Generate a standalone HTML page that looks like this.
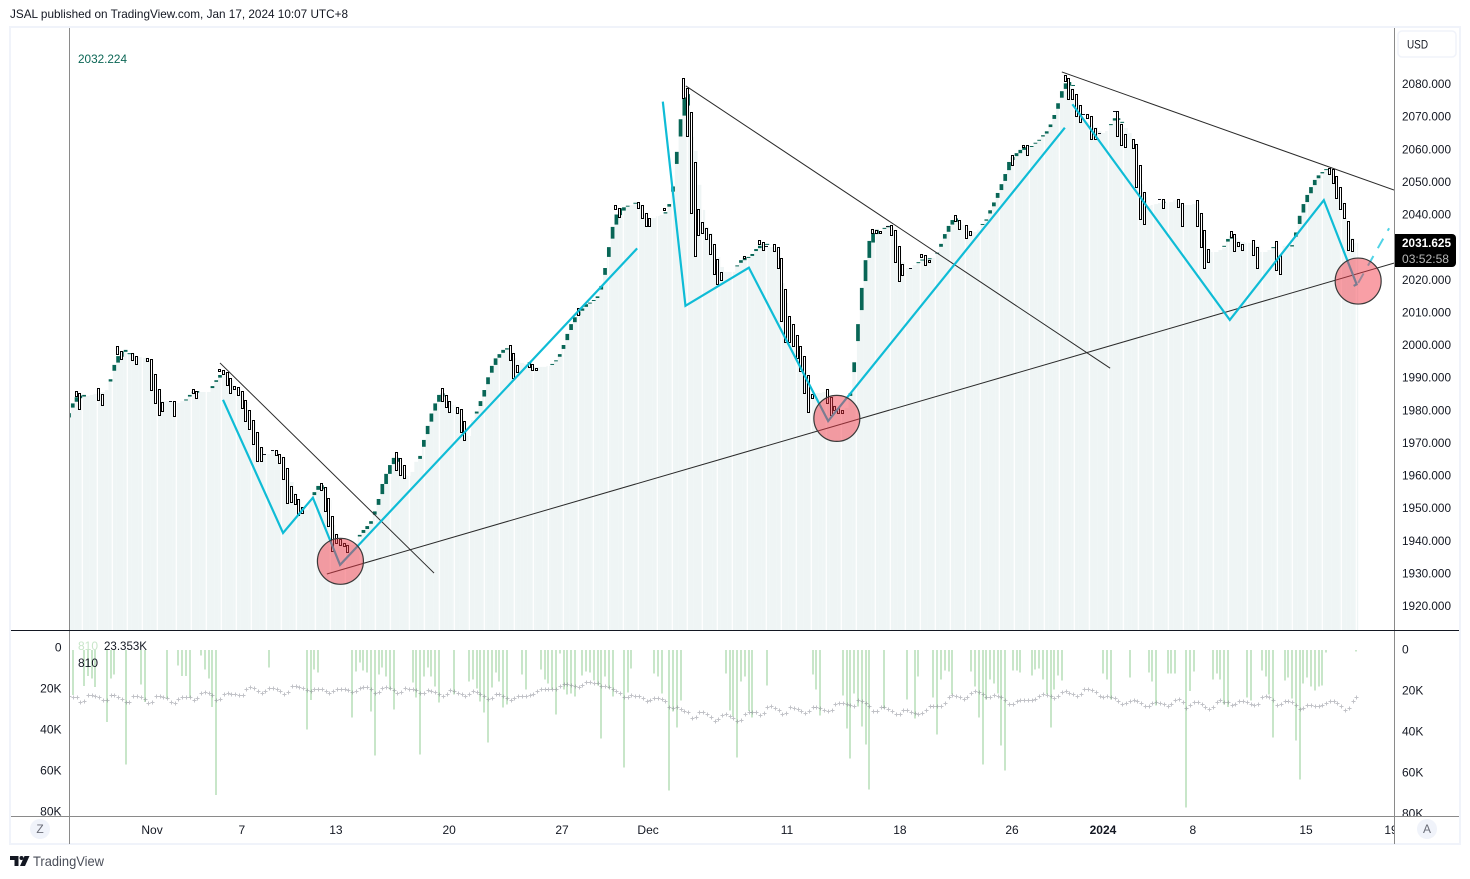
<!DOCTYPE html>
<html lang="en">
<head>
<meta charset="utf-8">
<title>JSAL TradingView chart</title>
<style>
html,body{margin:0;padding:0;background:#fff;width:1470px;height:879px;overflow:hidden}
svg{display:block}
text{font-family:"Liberation Sans",sans-serif;font-size:12px;fill:#131722}
</style>
</head>
<body>
<svg id="chart" xmlns="http://www.w3.org/2000/svg" width="1470" height="879" viewBox="0 0 1470 879">
  <defs>
    <clipPath id="priceClip"><rect x="70" y="28" width="1324" height="602"/></clipPath>
    <clipPath id="volClip"><rect x="70" y="631" width="1324" height="185"/></clipPath>
    <clipPath id="timeClip"><rect x="70" y="817" width="1324" height="27"/></clipPath>
    <clipPath id="leftVolClip"><rect x="11" y="631" width="58" height="185"/></clipPath>
    <clipPath id="rightVolClip"><rect x="1395" y="631" width="64" height="185"/></clipPath>
  </defs>
  <text x="10" y="18" textLength="338" lengthAdjust="spacingAndGlyphs">JSAL published on TradingView.com, Jan 17, 2024 10:07 UTC+8</text>
  <rect x="10" y="27" width="1450" height="817" fill="#fff" stroke="#f0f3fa" stroke-width="2"/>
  <g id="areaLayer" clip-path="url(#priceClip)"></g>
  <g id="gapLayer" clip-path="url(#priceClip)"></g>
  <g id="candleLayer" clip-path="url(#priceClip)"></g>
  <g id="drawLayer" clip-path="url(#priceClip)"></g>
  <g id="volLayer" clip-path="url(#volClip)"></g>
  <g id="maLayer" clip-path="url(#volClip)"></g>
  <line x1="69.5" y1="28" x2="69.5" y2="844" stroke="#8a8a8a"/>
  <line x1="1394.5" y1="28" x2="1394.5" y2="844" stroke="#8a8a8a"/>
  <line x1="11" y1="630.5" x2="1459" y2="630.5" stroke="#131722"/>
  <line x1="11" y1="816.5" x2="1459" y2="816.5" stroke="#8a8a8a"/>
  <text x="78" y="63" textLength="49" lengthAdjust="spacingAndGlyphs" style="fill:#0b6655">2032.224</text>
  <text x="78" y="650" style="fill:#c8e6c9">810</text>
  <text x="104" y="650" textLength="43" lengthAdjust="spacingAndGlyphs">23.353K</text>
  <text x="78" y="667">810</text>
  <rect x="1398" y="31" width="58" height="26" rx="4" fill="#fff" stroke="#f0f3fa" stroke-width="1.5"/>
  <text x="1407" y="48.5" textLength="21" lengthAdjust="spacingAndGlyphs">USD</text>
  <g id="priceAxis"></g>
  <g id="volAxisLeft" clip-path="url(#leftVolClip)"></g>
  <g id="volAxisRight" clip-path="url(#rightVolClip)"></g>
  <g id="timeAxis" clip-path="url(#timeClip)"></g>
  <path d="M1395 234H1452a4 4 0 0 1 4 4V263a4 4 0 0 1 -4 4H1395Z" fill="#000"/>
  <text x="1402" y="247" textLength="49" lengthAdjust="spacingAndGlyphs" style="fill:#fff;font-weight:bold">2031.625</text>
  <text x="1402" y="263" textLength="47" lengthAdjust="spacingAndGlyphs" style="fill:#b8b8b8">03:52:58</text>
  <circle cx="40" cy="829" r="10" fill="#f0f3fa"/>
  <text x="40" y="833" text-anchor="middle" style="fill:#6a6d78">Z</text>
  <circle cx="1427" cy="829" r="10" fill="#f0f3fa"/>
  <text x="1427" y="833" text-anchor="middle" style="fill:#6a6d78">A</text>
  <g>
    <polygon points="10,856 18.5,856 18.5,866 14.5,866 14.5,860 10,860" fill="#131722"/>
    <circle cx="21.5" cy="858" r="2" fill="#131722"/>
    <polygon points="24.5,856 29.5,856 25,866 20,866" fill="#131722"/>
    <text x="33" y="866" textLength="71" lengthAdjust="spacingAndGlyphs" style="font-size:14px;fill:#4a4e59">TradingView</text>
  </g>
</svg>
<script>
// ---- Price axis ticks
var priceTicks = [2080,2070,2060,2050,2040,2030,2020,2010,2000,1990,1980,1970,1960,1950,1940,1930,1920];
var volumeTicks = [0,20,40,60,80];
var timeLabels = ["Nov","7","13","20","27","Dec","11","18","26","2024","8","15","19"];
var timeLabelBars = [22,45.8,70.7,100.7,130.6,153.4,190.2,220.1,249.8,273.9,297.7,327.7,350.2];

// ---- Rising candles (filled)
var upBars = [0,1,2,3,4,11,12,13,14,15,
16,31,32,33,34,38,39,40,65,66,
67,77,78,79,80,81,82,83,84,85,
86,87,93,94,95,96,97,98,99,108,
109,110,111,112,113,114,115,116,122,128,
129,130,131,132,133,134,135,136,137,138,
139,140,141,142,143,144,145,146,147,148,
150,158,159,160,161,162,163,164,177,178,
179,180,181,182,183,184,185,207,208,209,
210,211,212,213,214,216,217,225,226,228,
230,231,232,233,234,235,242,243,244,245,
246,247,248,249,250,251,252,253,255,256,
257,258,259,260,261,262,263,264,265,266,
276,277,278,279,290,306,307,308,319,324,
325,326,327,328,329,330,331,332,333];
var upTop = [1979.1,1982.1,1984,1984.5,1984.7,1989.5,1993.9,1996.6,1998,1998.5,
1997.5,1983.3,1984.7,1985.7,1985.9,1987.4,1989.2,1990.8,1954.9,1956.8,
1957,1941.8,1943.3,1944.5,1946,1949,1952.8,1957.4,1960.5,1963.2,
1965.4,1965.4,1966,1970.9,1975.2,1979,1982.1,1984.7,1985.2,1979.6,
1982.8,1986.2,1990.1,1993.6,1995.9,1997.2,1998.5,1999,1994.7,1994.2,
1995.3,1997.2,2000,2003.4,2006.4,2008.5,2010.3,2011.2,2012.5,2013,
2013.8,2014.9,2018.1,2023.6,2030,2036.2,2040,2041.9,2042.2,2042.7,
2043.6,2040.7,2043.2,2048.6,2059.2,2069.2,2075.9,2076.9,2024.4,2026,
2026.8,2027,2027.9,2029.4,2030.4,2030.9,2031,1985.2,1994.7,2006.4,
2017.5,2026,2031.9,2034.3,2035.3,2035.9,2036.5,2025.4,2026.2,2026.6,
2028.3,2031,2034,2036.5,2038.3,2038.8,2037.1,2038.5,2041.3,2043.7,
2046.6,2049.3,2052.4,2056.1,2057.6,2058.8,2059.8,2060.6,2061,2062,
2062.9,2064.3,2065.5,2067.6,2070.5,2074.1,2077.8,2080.2,2080.6,2079.7,
2067.7,2069.5,2069.5,2068.4,2043.9,2030.4,2032.5,2033.5,2030,2030.6,
2034.5,2039.6,2043.2,2046,2048.4,2050.6,2052,2053,2053.9];
var upBottom = [1977.8,1980.8,1982.6,1983.7,1984.2,1988.8,1992.1,1994.6,1996.4,1997.9,
1997.3,1983.1,1984.2,1985.2,1985.4,1986.8,1988.7,1990,1954,1955.6,
1955.8,1941.3,1942.4,1943.6,1945.2,1948,1951,1954.3,1957.4,1960.5,
1963.5,1964.2,1965.1,1968.8,1972.7,1976.5,1979.9,1982.6,1984.2,1979,
1981.3,1984.2,1988,1991.5,1993.9,1996.1,1997.6,1998.6,1994.5,1994,
1995.1,1996.4,1998.8,2001.5,2004.6,2007,2009.1,2010.5,2011.7,2012.7,
2013.6,2014.4,2017,2021.5,2027,2032.6,2036.9,2039.8,2041.2,2042.4,
2043.4,2040.3,2042.4,2047,2055.5,2063.9,2070.3,2073.4,2024.2,2025.2,
2026,2026.8,2027.3,2028.8,2029.7,2030.7,2030.8,1984.4,1991.7,2001.2,
2010.7,2019.6,2026.7,2031.4,2034,2035.7,2036.1,2025.2,2025.9,2026.4,
2028,2030.1,2032.6,2034.7,2036.9,2037.8,2036.9,2038.1,2040.3,2042.5,
2045.1,2047.5,2050.3,2053.6,2056.7,2057.9,2058.8,2059.8,2060.8,2061.8,
2062.6,2063.9,2064.8,2066.8,2069.3,2072.4,2075.8,2078.5,2079.5,2079.5,
2067.5,2068.8,2069,2068.2,2043.6,2030.2,2031.7,2032.6,2029.8,2030.2,
2033.2,2037.1,2040.6,2043.8,2046.5,2049,2051.1,2052.6,2053.7];

// ---- Falling candles (hollow)
var downBars = [2,3,8,9,13,14,17,18,21,22,
23,24,25,27,28,33,34,40,41,42,
43,44,45,46,47,48,49,50,51,52,
54,55,56,57,58,59,60,61,62,67,
68,69,70,71,72,73,74,87,88,89,
99,100,101,103,104,105,117,118,119,122,
123,124,135,145,146,151,152,153,154,158,
163,164,165,166,167,168,169,170,171,172,
173,179,183,184,185,187,188,189,190,191,
192,193,194,195,196,197,201,202,203,204,
205,213,214,215,217,218,219,220,221,223,
226,227,228,235,236,238,239,250,253,254,
264,265,266,267,268,269,270,271,272,273,
277,278,279,280,282,283,284,285,289,290,
294,295,299,300,301,302,308,309,310,311,
314,315,320,321,334,335,336,337,338,339,
340];
var downTop = [1986,1985.2,1986.7,1984.9,1999.6,1998.3,1997.4,1996.5,1996.1,1995.6,
1991,1986.4,1982.4,1982.8,1982.7,1986.6,1986,1992.5,1992.2,1991.7,
1989.8,1987.4,1987,1985.8,1983,1980,1976.9,1973.2,1968.6,1966.6,
1967.8,1967.7,1966.7,1965.6,1962.2,1956.7,1954.2,1952.7,1950.2,1957.8,
1956.6,1953,1947.5,1942,1940.5,1939.3,1938.8,1967.2,1965.4,1963.2,
1986.7,1984.6,1982.7,1981.1,1980.3,1976.6,1999.9,1997.7,1993.8,1994.6,
1994.1,1993.1,2011.2,2042.8,2042.1,2043.7,2042.8,2040.6,2038.8,2041.9,
2081.7,2078.7,2071.3,2056,2041.6,2037.6,2035.8,2033.9,2030.9,2026.3,
2022.3,2027.2,2032.1,2031.5,2030.4,2030.9,2029.9,2026.6,2017.1,2008.8,
2006.3,2003,1999.7,1996.5,1990.7,1985.1,1986.4,1984.2,1981.4,1980.7,
1980,2035.5,2035.3,2034.8,2036.6,2036.8,2035.1,2030.2,2024.7,2023.6,
2027.8,2027.5,2026,2039.8,2038.2,2036.7,2034.8,2058.2,2061.4,2061.2,
2082.7,2081.7,2078.4,2076.8,2073.5,2070.8,2070.7,2070.1,2066.4,2065,
2071.7,2071.6,2067.6,2064.6,2063,2061.5,2055.1,2046.8,2044.8,2044.7,
2044.7,2043.4,2044.4,2040.4,2035.2,2029.3,2034.9,2033.9,2031.5,2030.9,
2032.1,2029.9,2031.8,2027.5,2054.4,2053.8,2051.7,2048.4,2043.5,2037.9,
2032.4];
var downBottom = [1984.5,1980.3,1983,1981.5,1997.1,1995.9,1995.3,1994.1,1995.3,1986.1,
1982.1,1978.4,1979.7,1982.6,1978.1,1985.3,1984,1991.8,1991,1987.6,
1985.2,1986.4,1984.6,1980.6,1976.7,1974.2,1969.6,1964.3,1964.3,1966.4,
1967.6,1966.2,1964,1958.8,1951.5,1951.8,1951.1,1947.8,1948.4,1955.8,
1949.3,1944.5,1936.9,1939.2,1938.6,1938.5,1936.6,1961.7,1960.2,1959.2,
1982.6,1980.9,1979.3,1979.4,1973.2,1970.8,1995.3,1990,1991.6,1993.5,
1992.4,1992.5,2009.1,2041.6,2039.4,2041.9,2038.8,2036.7,2036.4,2041.2,
2075.6,2063.9,2040.4,2027.1,2033.7,2034.2,2032.5,2027.8,2021.7,2018.6,
2019.8,2026.5,2030.8,2029.2,2030.2,2028.9,2023.5,2007.2,2000.8,2000.8,
1999.7,1995.9,1992.1,1985.2,1979.4,1984,1982.1,1978.6,1980.3,1979.1,
1979.1,2034.4,2034.5,2034.2,2036.4,2033.6,2025.4,2019.5,2021.4,2023.4,
2026.8,2024.4,2025.3,2038.1,2035.5,2032.7,2033.6,2055.2,2060.7,2058,
2080.8,2075.2,2075.3,2070.1,2068.2,2070.6,2069.4,2063,2063,2064.8,
2071.5,2064,2061.2,2060.6,2060.3,2048.3,2038.5,2037,2044.6,2041.9,
2042.2,2036.4,2036.4,2029.9,2023.5,2025.3,2033.2,2028.7,2030.3,2029,
2027.5,2023.5,2022.9,2021.7,2052.6,2049.6,2045,2041.8,2038.9,2029.1,
2028.7];

// ---- Pale area series, one value per bar
var areaValues = [1979.2,1980.7,1982.5,1983.8,1984.4,1984.4,1984.7,1985,1985.3,1985.6,
1986.2,1988.7,1992,1994.5,1996.3,1997.8,1997.5,1997.5,1996.3,1996.3,
1996,1995.4,1991.4,1986.2,1984.4,1982.8,1982.8,1982.8,1981.6,1982.2,
1982.8,1983.5,1984.4,1985.3,1985.6,1985.6,1985.6,1985.6,1987.1,1988.7,
1990.2,1991.7,1991.4,1989.3,1987.1,1986.5,1985.3,1982.5,1980.1,1976.4,
1973,1968.4,1966.6,1966.6,1967.5,1967.5,1966.3,1965.4,1961.7,1958,
1954.7,1952.5,1950.4,1949.4,1952.5,1954,1955.5,1957.1,1956.5,1952.5,
1944.8,1941.8,1940.8,1939.6,1939.3,1938.7,1939.3,1941.1,1942.4,1943.6,
1945.4,1948.2,1951,1954.3,1957.4,1960.5,1963.5,1964.2,1962.9,1960.2,
1959.9,1961.1,1964.2,1965.4,1968.7,1972.7,1976.4,1979.8,1982.5,1984.1,
1983.8,1982.8,1981.6,1981,1977.9,1973.9,1972.1,1977,1979.2,1981.3,
1984.1,1988.1,1991.4,1993.9,1996,1997.5,1998.5,1998.2,1996,1995.4,
1994.5,1994.2,1993.9,1993.3,1993.3,1993.3,1993.3,1993.6,1993.9,1995.1,
1996.6,1998.8,2001.5,2004.6,2007.1,2008.9,2010.7,2012,2012.9,2013.8,
2014.4,2017.2,2021.8,2027.3,2032.8,2036.8,2039.5,2041.4,2042.3,2042.9,
2043.2,2043.2,2039.9,2038.9,2038.9,2038.9,2039.5,2039.9,2040.2,2042.3,
2046.9,2055.5,2063.8,2070.2,2076,2063.8,2059.5,2049.1,2041.4,2036.2,
2034.3,2030,2027,2023.9,2022.4,2022.4,2022.4,2024.2,2025.4,2026.4,
2026.7,2027.6,2028.8,2030,2030,2030,2030,2029.7,2029.1,2019,
2012.9,2007.7,2003.1,2000,1996,1992.3,1987.7,1985.6,1985.3,1985.3,
1985.6,1986.2,1984.7,1981.6,1980.7,1980.1,1980.7,1984.7,1991.7,2001.2,
2010.7,2019.6,2026.7,2031.3,2034,2034.6,2035.6,2036.2,2035.9,2033.7,
2029.1,2025.4,2023.6,2023.6,2024.5,2025.1,2026.1,2026.4,2026.4,2026.7,
2027.9,2030,2032.5,2034.6,2036.8,2037.7,2037.7,2036.8,2035.9,2034.9,
2034.6,2035.3,2036.8,2038,2040.2,2042.3,2045.1,2047.5,2050.3,2053.6,
2056.7,2057.9,2058.9,2059.8,2060.4,2060.7,2061.6,2062.5,2063.8,2064.7,
2066.8,2069.3,2072.3,2076,2078.5,2079.4,2078.8,2074.2,2069.6,2068.4,
2068.4,2067.4,2066.8,2065.6,2065,2065.6,2067.4,2069,2069.3,2068.4,
2066.5,2065,2062.8,2060.7,2049.3,2045.4,2042.6,2042.9,2043.2,2043.5,
2043.5,2043.5,2043.8,2044.4,2043.8,2042.9,2042.9,2042.9,2043.2,2043.2,
2039.5,2032.2,2029.1,2028.5,2028.5,2029.1,2029.7,2031.9,2033.4,2032.8,
2031.9,2031.6,2031.3,2031.3,2031,2030.4,2028.5,2028.5,2029.1,2029.7,
2028.5,2027.6,2030.4,2030.4,2032.2,2033.1,2037.1,2040.5,2043.5,2046.3,
2048.8,2050.9,2052.4,2053.3,2053.6,2051.8,2047.5,2044.4,2038.9,2035.3,
2032.8,2031.3];

// ---- Volume histogram (thousands), listed only for bars that show one
var volBars = [0,1,4,5,6,7,10,11,12,15,
19,20,26,29,30,31,32,35,36,37,
38,39,53,63,64,65,66,75,76,77,
78,79,80,81,82,83,84,85,86,91,
92,93,94,95,96,97,98,102,106,107,
108,109,110,111,112,113,114,115,116,120,
121,125,126,127,128,129,130,131,132,133,
134,136,137,138,139,140,141,142,143,144,
147,148,149,155,156,157,159,160,161,162,
174,175,176,177,178,179,180,181,185,197,
198,199,205,206,207,208,209,210,211,212,
216,222,224,225,229,230,231,232,233,234,
239,240,241,242,243,244,245,246,247,248,
250,251,252,255,256,257,258,259,260,261,
262,263,274,275,276,281,286,287,288,291,
292,293,296,297,298,303,304,305,306,307,
312,313,316,317,318,319,322,323,324,325,
326,327,328,329,330,331,332,333,341];
var volValues = [13.5,22.3,17.9,13,14.2,18.4,35.4,14.2,12.2,56,
17,25.7,24,7.8,13,13,23.3,2.9,9.8,14.2,
28.1,71,8.9,39,24.7,9.8,11.2,33.2,10.7,6.3,
10.2,11.2,30.2,51.7,12.2,8.8,13.2,19.5,29.3,16.1,
23.4,51.2,13.2,8.8,13.2,18,25.9,22,15.6,14.6,
19,25.4,30.7,45.4,18.5,11.2,15.6,28.3,26.8,12.2,
19.5,9.8,14.6,16.6,19.5,31.7,2,19.5,22,21.5,
22.9,12.7,10.7,11.2,15.1,17.6,43.4,13.2,19,22.9,
57.6,21,9.3,11.7,13.2,21.5,68.8,30.2,38,24.9,
11.7,29.8,32.7,52.7,15.6,13.2,29.9,33.2,17.6,12.2,
19.5,32.2,22.4,38.5,53.2,21.5,27.8,37.6,46.3,68.3,
28.8,24.4,33.7,13.2,23.4,41.5,14.6,10.2,10.7,22,
10.7,18,33.2,56.1,24.4,14.6,16.6,21.5,46.8,59,
10.2,10.2,11.2,12.7,9.8,9.3,14.6,22,38,19.5,
12.7,15.1,11.7,14.6,24.4,13.7,11.2,15.6,27.3,11.7,
11.7,11.7,77,20.3,10.7,14.6,11.7,14.6,26.8,28.1,
23.4,24.9,10.2,13.2,22,42.9,15.1,13.7,23.9,44.4,
63.4,16.6,13.7,18,20,18,17.6,1.5,1];

// ---- Volume moving average (thousands), one value per bar
var volAverage = [22.8,23.4,23.4,25.4,25,22.4,22.4,22.9,23.4,24.6,
24.6,22.4,22.4,23.4,24.2,25.7,25.4,22.9,22.9,23.4,
24.1,25.9,25.5,22.9,22.9,23.4,23.7,25.4,26,24.2,
23.1,23.1,23.4,24.7,23.7,21.3,20.8,21.3,22.3,24.4,
24.1,21.6,21.1,21.5,21.6,22.4,22.1,19.5,18.5,18.9,
20.3,21.1,20.3,18.9,18.9,19.5,20.2,21.6,20.7,17.7,
17.7,18.2,18.7,19.7,20.2,19.2,19.2,19.2,20.2,21.1,
20.2,19.2,19.2,19.2,19.7,20.7,20.2,18.7,18.2,18.2,
19.2,21.1,20.7,18.7,18.2,18.7,19.7,21.1,20.7,18.7,
19.2,19.2,19.7,21.1,21.1,19.7,20.2,20.7,21.6,22.6,
21.6,19.7,20.2,21.1,21.6,22.6,21.6,20.2,20.7,21.6,
22.6,24.1,23.6,21.6,21.6,22.6,23.6,24.6,23.6,22.6,
22.6,22.6,22.1,21.6,20.2,19.2,19.2,19.2,19.2,19.2,
17.7,16.7,16.7,17.2,17.7,18.2,17.2,15.8,15.8,16.3,
16.3,17.7,17.7,18.2,19.2,20.2,21.1,23.1,23.1,22.1,
22.6,22.6,23.6,25,24.6,23.6,23.6,24.1,25,28,
28.5,28,28.9,29.9,30.4,33.3,32.8,30.4,30.4,31.4,
32.8,34.8,33.8,31.9,31.4,32.4,33.3,34.8,34.3,31.4,
30.4,30.4,30.4,31.9,30.9,28,27.5,28.5,29.4,31.4,
30.9,28,28.5,28.9,29.9,30.9,29.9,28,28,28.5,
29.4,29.9,29.4,26.5,26,26,26.5,27,27.5,24.6,
25,26,27.5,29.9,29.9,28,28,28.9,29.9,31.4,
31.4,29.4,29.4,30.4,30.9,31.4,30.9,29.4,27.5,27.5,
27.5,27.5,26,23.1,22.1,22.6,23.1,24.1,23.1,21.1,
20.2,20.7,21.6,23.1,23.1,22.1,22.6,23.1,24.6,26.5,
26.5,25,24.6,24.6,24.6,24.6,24.1,22.6,21.6,22.1,
22.6,23.6,22.6,20.7,20.2,21.1,21.6,22.6,21.6,19.2,
19.2,19.7,20.7,22.6,23.1,22.6,23.1,23.6,25,26.5,
26,25,24.6,25,26,27.5,27.5,26,25.5,26,
26.5,27.5,26.5,24.6,24.1,25.5,28.5,27.3,25.4,25.4,
26.5,28,28.9,28,25.4,24.6,25.7,25.7,27,26.5,
25,25,25.5,26.5,27,26.5,23.1,22.6,23.1,24.6,
27,26.5,25,25,25.5,27,28.9,28.5,27,27,
27.5,27.5,27,26,25,25,26,27.5,29.4,28.5,
25,23.4];

// ---- Drawings anchored in bar / price space
var trendStartBars = [40,163.4,263,68.3];
var trendStartPrices = [1994.5,2079.4,2083.7,1929.8];
var trendEndBars = [96.7,275.8,351,351];
var trendEndPrices = [1930.1,1992.9,2047.5,2025.1];
var zigzagABars = [40.8,56.7,64.6,71.8,150.5];
var zigzagAPrices = [1983.2,1942.4,1953.2,1932.6,2029.6];
var zigzagBBars = [157.3,163.3,180.1,201.1,263.8];
var zigzagBPrices = [2074.6,2012,2023.7,1976.7,2066.6];
var zigzagCBars = [265.8,307.5,332.4,341.1,340.3];
var zigzagCPrices = [2073.8,2007.7,2044.4,2018.6,2018.1];
var projectionBars = [341.5,349.7];
var projectionPrices = [2019,2035.8];
var circleBars = [71.9,203.4,341.5];
var circlePrices = [1933.7,1977.5,2019.6];

var NS = 'http://www.w3.org/2000/svg';
function xScale(i){ return 69 + 3.775 * i; }
function yScale(p){ return 84 + (2080 - p) * 3.2625; }
function volScale(k){ return 649.5 + 2.05 * k; }
function make(parent, tag, attrs){
  var el = document.createElementNS(NS, tag);
  for (var key in attrs){ el.setAttribute(key, attrs[key]); }
  parent.appendChild(el);
  return el;
}
var g = function(id){ return document.getElementById(id); };

// area columns
areaValues.forEach(function(v, i){
  var top = yScale(v);
  var el = make(g('areaLayer'), 'rect', {x: xScale(i) - 1.95, y: top, width: 3.9, height: 630 - top, fill: '#eff5f5'});
  
  
});

// white grid gaps through the area
var gapJumpThresholds = [172,300,400,515,640,750,860,995,1090,1240,1325];
(function(){
  var gx = 82.3;
  while (gx < 1358){
    var el = make(g('gapLayer'), 'line', {x1: gx, x2: gx, y1: 28, y2: 630, stroke: '#fff', 'stroke-width': 1.2});
    
    
    var next = gx + 15;
    var crossed = gapJumpThresholds.some(function(t){ return gx <= t && next > t; });
    gx = crossed ? next + 4 : next;
  }
})();

// volume
volBars.forEach(function(b, n){
  var h = volScale(volValues[n]) - 650;
  var el = make(g('volLayer'), 'rect', {x: Math.round(xScale(b)) - 1, y: 650, width: 2, height: Math.max(h, 1), fill: '#c8e6c9', 'shape-rendering': 'crispEdges'});
  
  
});
volAverage.forEach(function(k, i){
  var cx = Math.round(xScale(i)) + 0.5, cy = Math.round(volScale(k)) + 0.5;
  var d = 'M' + (cx - 2) + ' ' + cy + 'H' + (cx + 2) + 'M' + cx + ' ' + (cy - 2) + 'V' + (cy + 2);
  var el = make(g('maLayer'), 'path', {d: d, stroke: '#787b86', 'stroke-opacity': 0.45, 'stroke-width': 1, fill: 'none', 'shape-rendering': 'crispEdges'});
  
  
});

// candles
upBars.forEach(function(b, n){
  var t = yScale(upTop[n]), bt = yScale(upBottom[n]);
  var el = make(g('candleLayer'), 'rect', {x: xScale(b) - 1.85, y: t, width: 3.7, height: Math.max(bt - t, 1), fill: '#086656'});
  
  
});
downBars.forEach(function(b, n){
  var t = yScale(downTop[n]), bt = yScale(downBottom[n]);
  var left = Math.round(xScale(b)) - 1.5;
  var h = bt - t;
  var el;
  if (h < 1.5){
    el = make(g('candleLayer'), 'rect', {x: left - 0.5, y: Math.round(t), width: 3, height: 1, fill: '#131722'});
  } else {
    el = make(g('candleLayer'), 'rect', {x: left, y: Math.round(t) + 0.5, width: 2, height: Math.round(h), fill: '#fff', stroke: '#000', 'stroke-width': 1, 'shape-rendering': 'crispEdges'});
  }
  
  
});

// drawings
trendStartBars.forEach(function(b, n){
  var el = make(g('drawLayer'), 'line', {x1: xScale(b), y1: yScale(trendStartPrices[n]), x2: xScale(trendEndBars[n]), y2: yScale(trendEndPrices[n]), stroke: '#2a2a2a', 'stroke-width': 1});
  
  
});
function polyPoints(bars, prices){
  return bars.map(function(b, n){ return xScale(b) + ',' + yScale(prices[n]); }).join(' ');
}
[[zigzagABars, zigzagAPrices],[zigzagBBars, zigzagBPrices],[zigzagCBars, zigzagCPrices]].forEach(function(s){
  var el = make(g('drawLayer'), 'polyline', {points: polyPoints(s[0], s[1]), fill: 'none', stroke: '#0fbcd6', 'stroke-width': 2.2});
  
  
});
var proj = make(g('drawLayer'), 'polyline', {points: polyPoints(projectionBars, projectionPrices), fill: 'none', stroke: '#4fd3e6', 'stroke-width': 2, 'stroke-dasharray': '11 9'});


circleBars.forEach(function(b, n){
  var el = make(g('drawLayer'), 'circle', {cx: xScale(b), cy: yScale(circlePrices[n]), r: 23, fill: '#f23645', 'fill-opacity': 0.48, stroke: '#3a3a3a', 'stroke-width': 1.2});
  
  
});

// axis labels
priceTicks.forEach(function(p){
  var el = make(g('priceAxis'), 'text', {x: 1402, y: yScale(p) + 4, textLength: 49, lengthAdjust: 'spacingAndGlyphs'});
  el.textContent = p.toFixed(3);
  
  
});
volumeTicks.forEach(function(k){
  var txt = k === 0 ? '0' : k + 'K';
  var l = make(g('volAxisLeft'), 'text', {x: 61.5, y: volScale(k) + 2, 'text-anchor': 'end'});
  l.textContent = txt;
  
  
  var r = make(g('volAxisRight'), 'text', {x: 1402, y: volScale(k) + 4});
  r.textContent = txt;
  
  
});
timeLabels.forEach(function(lbl, n){
  var el = make(g('timeAxis'), 'text', {x: xScale(timeLabelBars[n]), y: 834, 'text-anchor': 'middle'});
  if (lbl === '2024'){ el.style.fontWeight = 'bold'; }
  el.textContent = lbl;
  
  
});
</script>
</body>
</html>
